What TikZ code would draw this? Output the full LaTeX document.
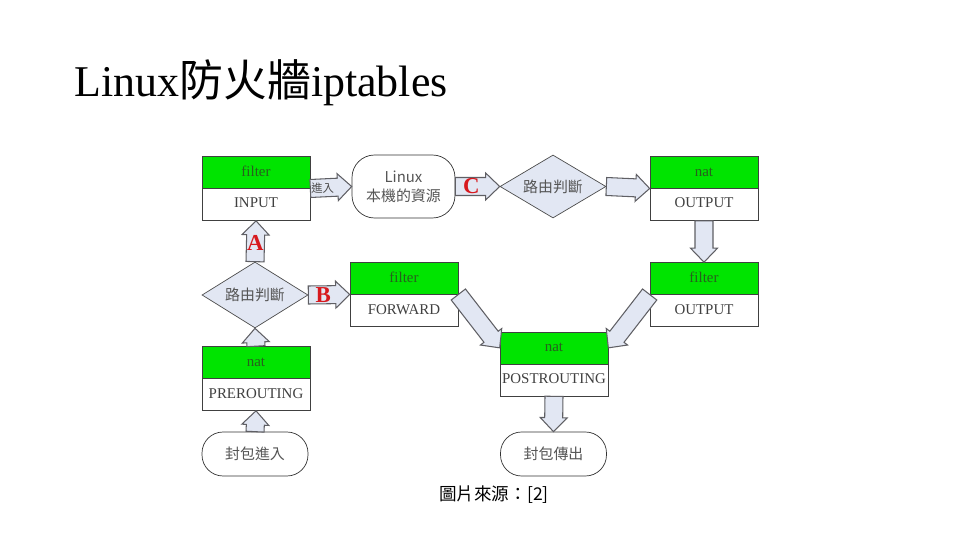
\documentclass[tikz,border=0pt]{standalone}
\usepackage{fontspec}
\setmainfont{Liberation Serif}
\newfontfamily\cjk{Noto Sans CJK TC}
\usetikzlibrary{shapes.geometric,shapes.multipart,calc}
\definecolor{boxgreen}{RGB}{0,228,0}
\definecolor{labelgreen}{RGB}{40,95,30}
\definecolor{arrowfill}{RGB}{226,231,243}
\definecolor{arrowline}{RGB}{95,95,100}
\definecolor{textgray}{RGB}{85,85,85}
\definecolor{markred}{RGB}{215,25,30}
\newcommand\cs{\rule[-2pt]{0pt}{8pt}}
% block arrow from #2 to #3
\newcommand\bigarrow[3][]{%
  \coordinate (ba-s) at #2;
  \coordinate (ba-e) at #3;
  \coordinate (ba-h) at ($(ba-e)!0.28cm!(ba-s)$);
  \draw[barrow,#1] ($(ba-s)!0.18cm!90:(ba-e)$) -- ($(ba-h)!0.18cm!90:(ba-e)$)
    -- ($(ba-h)!0.27cm!90:(ba-e)$) -- (ba-e) -- ($(ba-h)!0.27cm!-90:(ba-e)$)
    -- ($(ba-h)!0.18cm!-90:(ba-e)$) -- ($(ba-s)!0.18cm!-90:(ba-e)$) -- cycle;}
\tikzset{
  chainbox/.style={rectangle split, rectangle split parts=2, draw=black!75,
                   rectangle split part fill={boxgreen,white}, minimum width=2.16cm,
                   inner ysep=4.9pt, font=\fontsize{8.5}{10}\selectfont, text=black!75},
  judge/.style={diamond, aspect=1.7, draw=black!70, fill=arrowfill, minimum width=2.12cm,
                minimum height=1.26cm, inner sep=0pt, font=\cjk\fontsize{8.5}{10}\selectfont,
                text=textgray},
  term/.style={rectangle, rounded corners=0.42cm, draw=black!80, fill=white,
               minimum width=2.12cm, minimum height=0.88cm, align=center,
               font=\cjk\fontsize{8.5}{11}\selectfont, text=textgray},
  barrow/.style={draw=arrowline, fill=arrowfill, line width=0.6pt, line join=miter},
  redlbl/.style={font=\bfseries\fontsize{13}{13}\selectfont, text=markred, inner sep=0pt},
  arrlbl/.style={font=\cjk\fontsize{6.5}{7}\selectfont, text=black!70, inner sep=0pt}
}
\begin{document}
\begin{tikzpicture}[x=0.02cm, y=-0.02cm]
  \useasboundingbox (0,0) rectangle (960,540);
  \node[anchor=base west, inner sep=0pt, font=\fontsize{25}{30}\selectfont] (title) at (74,97)
    {Linux{\cjk 防火牆}iptables};

  \node[chainbox] (inp) at (256,188.5) {\cs\textcolor{labelgreen}{filter}\nodepart{two}\cs INPUT};
  \node[term, minimum width=2.06cm, minimum height=1.26cm, rounded corners=0.45cm] (lin) at (403.5,186.5)
    {Linux\\本機的資源};
  \node[judge] (d2) at (553,186.5) {路由判斷};
  \node[chainbox] (nout) at (704,188.5) {\cs\textcolor{labelgreen}{nat}\nodepart{two}\cs OUTPUT};
  \node[chainbox] (fout) at (704,294.5) {\cs\textcolor{labelgreen}{filter}\nodepart{two}\cs OUTPUT};
  \node[judge, minimum height=1.32cm] (d1) at (255,295) {路由判斷};
  \node[chainbox] (fwd) at (404,294.5) {\cs\textcolor{labelgreen}{filter}\nodepart{two}\cs FORWARD};
  \node[chainbox] (pre) at (256,378.5) {\cs\textcolor{labelgreen}{nat}\nodepart{two}\cs PREROUTING};
  \node[chainbox, inner xsep=1pt] (post) at (554,364) {\cs\textcolor{labelgreen}{nat}\nodepart{two}\cs POSTROUTING};
  \node[term] (pin) at (255,454) {封包進入};
  \node[term] (pout) at (553.5,454) {封包傳出};

  \bigarrow{(inp.east)}{(lin.west)}
  \bigarrow{(lin.east)}{(d2.west)}
  \bigarrow{(d2.east)}{(nout.west)}
  \bigarrow{(nout.south)}{(fout.north)}
  \bigarrow{(d1.north)}{(inp.south)}
  \bigarrow{(d1.east)}{(fwd.west)}
  \bigarrow{(pre.north)}{(d1.south)}
  \bigarrow{(pin.north)}{(pre.south)}
  \bigarrow{(post.south)}{(pout.north)}
  \bigarrow{(fwd.east)}{($(post.north west)!0.5!(post.west)$)}
  \bigarrow{(fout.west)}{($(post.north east)!0.5!(post.east)$)}

  \node[arrlbl] at ($(inp.east)!0.3!(lin.west)$) {進入};
  \node[redlbl] at ($(lin.east)!0.36!(d2.west)$) {C};
  \node[redlbl] at ($(d1.north)!0.45!(inp.south)$) {A};
  \node[redlbl] at ($(d1.east)!0.36!(fwd.west)$) {B};

  \node[font=\cjk\fontsize{10}{12}\selectfont] (src) at (494,495) {圖片來源：[2]};
\end{tikzpicture}
\end{document}
